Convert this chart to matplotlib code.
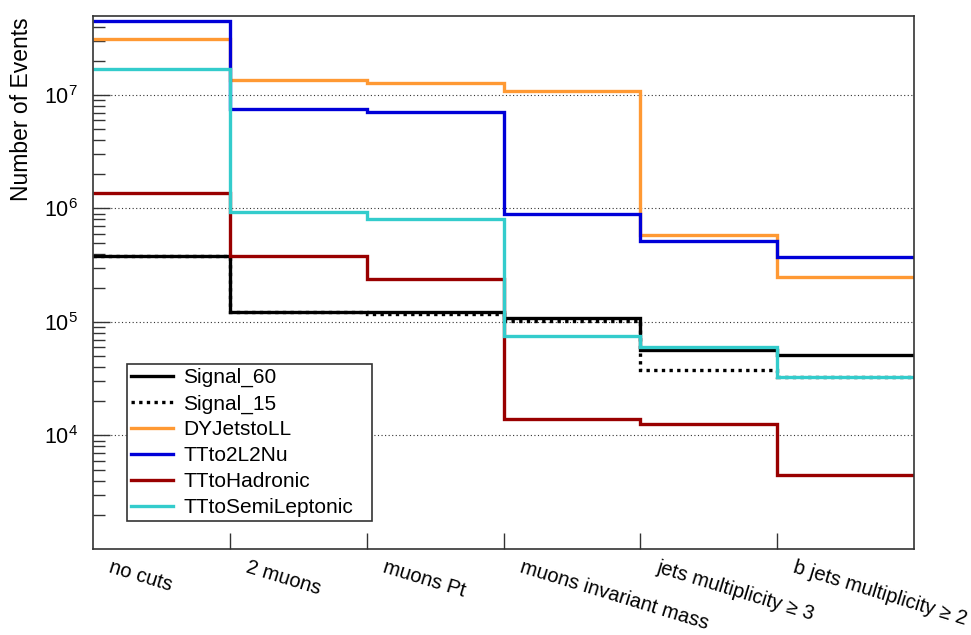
import numpy as np
import matplotlib
matplotlib.use("Agg")
import matplotlib.pyplot as plt
from matplotlib.ticker import LogLocator, FixedLocator, NullFormatter

plt.rcParams['font.family'] = ['Liberation Sans', 'DejaVu Sans']
plt.rcParams['mathtext.fontset'] = 'custom'
plt.rcParams['mathtext.rm'] = 'Liberation Sans'
plt.rcParams['mathtext.it'] = 'Liberation Sans:italic'

# ---- data ----
categories = ["no cuts", "2 muons", "muons Pt", "muons invariant mass",
              "jets multiplicity \u2265 3", "b jets multiplicity \u2265 2"]
signal_60 = [3.78e5, 1.23e5, 1.23e5, 1.08e5, 5.69e4, 5.07e4]
signal_15 = [3.78e5, 1.23e5, 1.17e5, 1.01e5, 3.74e4, 3.25e4]
dyjets = [3.13e7, 1.35e7, 1.28e7, 1.08e7, 5.86e5, 2.47e5]
tt2l2nu = [4.46e7, 7.57e6, 7.08e6, 8.9e5, 5.21e5, 3.75e5]
tthad = [1.38e6, 3.78e5, 2.40e5, 1.40e4, 1.26e4, 4.52e3]
ttsemi = [1.68e7, 9.27e5, 8.1e5, 7.6e4, 6.08e4, 3.25e4]

series = [
    ("Signal_60", signal_60, "black", "-"),
    ("Signal_15", signal_15, "black", (0, (1, 1.3))),
    ("DYJetstoLL", dyjets, "#FF9933", "-"),
    ("TTto2L2Nu", tt2l2nu, "#0000D8", "-"),
    ("TTtoHadronic", tthad, "#990000", "-"),
    ("TTtoSemiLeptonic", ttsemi, "#33CCCC", "-"),
]

fig = plt.figure(figsize=(9.71, 6.35), dpi=100)
ax = fig.add_axes([93 / 971, 1 - 549 / 635, (914 - 93) / 971, (549 - 16) / 635])

edges = np.arange(len(categories) + 1)
handles = []
for name, vals, col, ls in series:
    h = ax.stairs(vals, edges, baseline=None, color=col, linestyle=ls,
                  linewidth=2.4, label=name)
    handles.append(h)

ax.set_yscale('log')
ax.set_ylim(1e3, 4.96e7)
ax.set_xlim(0, len(categories))

# y ticks
ax.yaxis.set_major_locator(FixedLocator([1e4, 1e5, 1e6, 1e7]))
ax.set_yticklabels([r'$\mathregular{10^{4}}$', r'$\mathregular{10^{5}}$',
                    r'$\mathregular{10^{6}}$', r'$\mathregular{10^{7}}$'])
ax.yaxis.set_minor_locator(LogLocator(base=10, subs=np.arange(2, 10), numticks=20))
ax.yaxis.set_minor_formatter(NullFormatter())
ax.tick_params(axis='y', which='major', direction='in', length=12, width=1.0,
               labelsize=15.5, pad=11, right=False, color='#333333')
ax.tick_params(axis='y', which='minor', direction='in', length=8.5, width=1.0,
               right=False, color='#333333')

# x ticks: bin edges (no labels), labels as minor ticks near bin starts
ax.set_xticks(edges[1:-1])
ax.set_xticklabels([])
ax.set_xticks(edges[:-1] + 0.145, minor=True)
ax.set_xticklabels(categories, minor=True, rotation=-17, ha='left', va='top',
                   rotation_mode='anchor', fontsize=14.5)
ax.tick_params(axis='x', which='major', direction='in', length=11.5, width=1.0,
               top=False, color='#333333')
ax.tick_params(axis='x', which='minor', length=0, pad=6)

for s in ax.spines.values():
    s.set_color('#333333')
    s.set_linewidth(1.2)

ax.grid(True, which='major', axis='y', color='#333333', linestyle=(0, (1, 2.2)),
        linewidth=0.8)
ax.set_axisbelow(True)

fig.text(21 / 971, 1 - 17 / 635, "Number of Events", rotation=90,
         ha='center', va='top', fontsize=16.5)

leg = ax.legend(handles=handles, loc='upper left',
                bbox_to_anchor=(127 / 971, 1 - 364 / 635, (372 - 127) / 971, 0.0),
                bbox_transform=fig.transFigure, mode='expand',
                fontsize=15, frameon=True, fancybox=False, framealpha=1,
                edgecolor='#333333', borderpad=0.2, labelspacing=0.33,
                handlelength=2.0, handletextpad=0.5, borderaxespad=0)
leg.get_frame().set_linewidth(1.2)

fig.savefig("out.png", dpi=100)
